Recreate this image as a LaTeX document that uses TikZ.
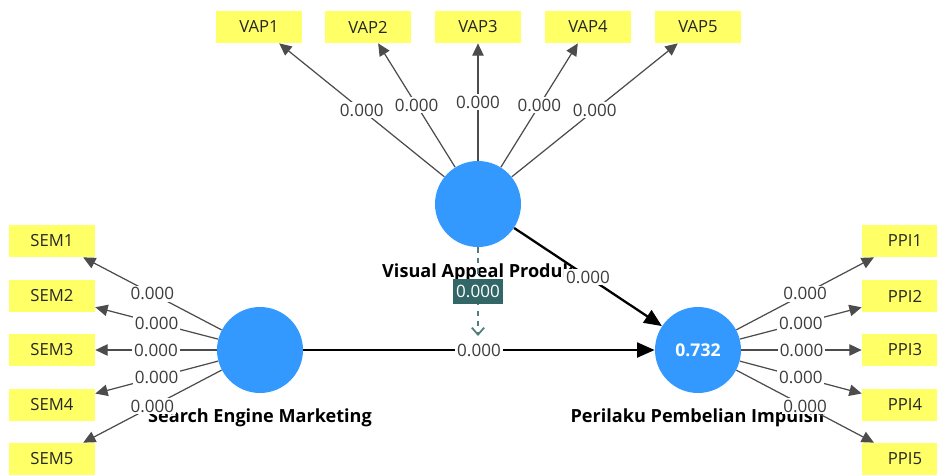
\documentclass[tikz,border=0pt]{standalone}
\usepackage{fontspec}
\setmainfont{Open Sans}
\usetikzlibrary{arrows.meta}
\definecolor{lvblue}{RGB}{51,153,255}
\definecolor{indyellow}{RGB}{255,255,102}
\definecolor{modteal}{RGB}{51,102,102}
\definecolor{lblgray}{RGB}{60,60,60}
\begin{document}
\begin{tikzpicture}[x=0.02cm,y=-0.02cm,lv/.style={circle,fill=lvblue,inner sep=0pt,minimum size=1.72cm,text=white,font=\fontsize{10}{12}\selectfont\bfseries},ind/.style={fill=indyellow,inner sep=0pt,minimum width=1.72cm,minimum height=0.64cm,text=black!85,font=\fontsize{9.5}{11}\selectfont},lvname/.style={font=\fontsize{10.3}{12}\selectfont\bfseries},lbl/.style={fill=white,inner sep=1pt,text=lblgray,font=\fontsize{9.7}{11}\selectfont},loading/.style={draw=black!70,line width=0.7pt,-{Triangle[length=7pt,width=6.5pt]}},pathline/.style={draw=black,line width=1.3pt,-{Triangle[length=10pt,width=8.5pt]}},modlbl/.style={fill=modteal,inner xsep=2pt,inner ysep=3.5pt,text=white,font=\fontsize{9.7}{11}\selectfont},moderation/.style={draw=modteal!85,dashed,line width=1pt,-{Straight Barb[length=4pt,width=7pt]}}]
	\clip (0,0) rectangle (937,474);

	\node[lv]	(vap)	at (478,204)	{};
	\node[lv]	(sem)	at (260,350)	{};
	\node[lv]	(ppi)	at (698,350)	{0.732};

	\node[lvname]	(vapname)	at (478,273)	{Visual Appeal Produk};
	\node[lvname]	(semname)	at (260,418)	{Search Engine Marketing};
	\node[lvname]	(ppiname)	at (698,418)	{Perilaku Pembelian Impulsif};

	\node[ind]	(vap1)	at (259,27)	{VAP1};
	\node[ind]	(vap2)	at (368,27)	{VAP2};
	\node[ind]	(vap3)	at (478,27)	{VAP3};
	\node[ind]	(vap4)	at (588,27)	{VAP4};
	\node[ind]	(vap5)	at (698,27)	{VAP5};

	\node[ind]	(sem1)	at (52,241)	{SEM1};
	\node[ind]	(sem2)	at (52,296)	{SEM2};
	\node[ind]	(sem3)	at (52,350)	{SEM3};
	\node[ind]	(sem4)	at (52,405)	{SEM4};
	\node[ind]	(sem5)	at (52,459)	{SEM5};

	\node[ind]	(ppi1)	at (905,241)	{PPI1};
	\node[ind]	(ppi2)	at (905,296)	{PPI2};
	\node[ind]	(ppi3)	at (905,350)	{PPI3};
	\node[ind]	(ppi4)	at (905,405)	{PPI4};
	\node[ind]	(ppi5)	at (905,459)	{PPI5};

	\coordinate	(modend)	at (478,336);

	\draw[loading] (vap) -- node[lbl] {0.000} (vap1);
	\draw[loading] (vap) -- node[lbl] {0.000} (vap2);
	\draw[loading] (vap) -- node[lbl] {0.000} (vap3);
	\draw[loading] (vap) -- node[lbl] {0.000} (vap4);
	\draw[loading] (vap) -- node[lbl] {0.000} (vap5);

	\draw[loading] (sem) -- node[lbl] {0.000} (sem1);
	\draw[loading] (sem) -- node[lbl] {0.000} (sem2);
	\draw[loading] (sem) -- node[lbl] {0.000} (sem3);
	\draw[loading] (sem) -- node[lbl] {0.000} (sem4);
	\draw[loading] (sem) -- node[lbl] {0.000} (sem5);

	\draw[loading] (ppi) -- node[lbl] {0.000} (ppi1);
	\draw[loading] (ppi) -- node[lbl] {0.000} (ppi2);
	\draw[loading] (ppi) -- node[lbl] {0.000} (ppi3);
	\draw[loading] (ppi) -- node[lbl] {0.000} (ppi4);
	\draw[loading] (ppi) -- node[lbl] {0.000} (ppi5);

	\draw[pathline] (sem) -- node[lbl] {0.000} (ppi);
	\draw[pathline] (vap) -- node[lbl] {0.000} (ppi);
	\draw[moderation] (vap) -- node[modlbl] {0.000} (modend);
\end{tikzpicture}
\end{document}
